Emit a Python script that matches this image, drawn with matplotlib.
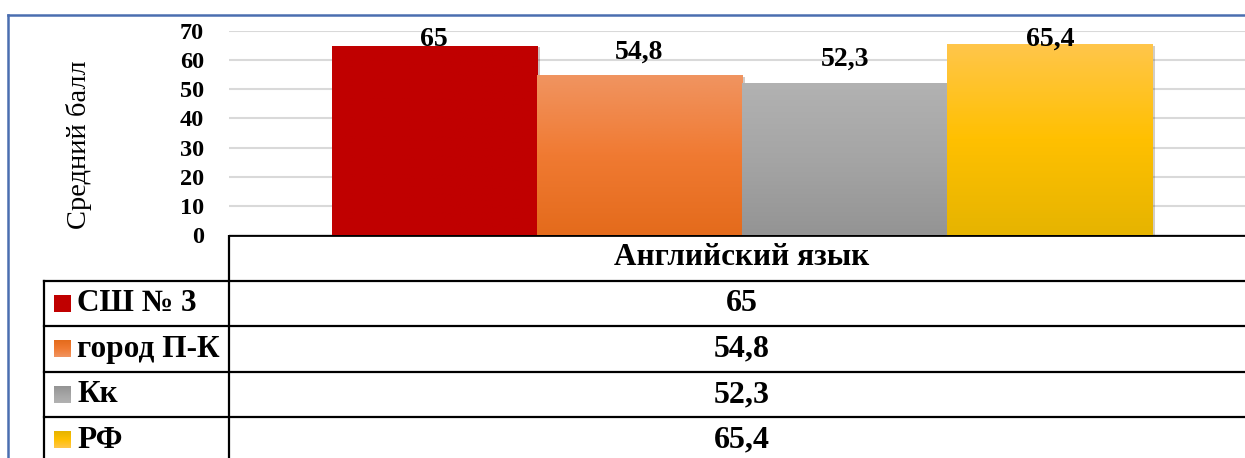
import numpy as np
import matplotlib.pyplot as plt
from matplotlib.colors import LinearSegmentedColormap
from matplotlib.lines import Line2D
import matplotlib.patheffects as pe

subject = "Английский язык"
series = ["СШ № 3", "город П-К", "Кк", "РФ"]
values = [65, 54.8, 52.3, 65.4]
labels = ["65", "54,8", "52,3", "65,4"]
yticks = [0, 10, 20, 30, 40, 50, 60, 70]
grads = [["#C00000", "#C00000"],
         ["#F09460", "#F07A32", "#E46B1C"],
         ["#B2B2B2", "#A5A5A5", "#949494"],
         ["#FFC64A", "#FFC000", "#E6B400"]]

W, H = 1245, 458
fig = plt.figure(figsize=(W / 100, H / 100), dpi=100)
serif = "Liberation Serif"

# bar chart area
ax = fig.add_axes([229 / W, 1 - 235 / H, 1026 / W, 204 / H])
n = len(values)
bw = 0.8 / n
xs = (np.arange(n) - (n - 1) / 2) * bw
bars = ax.bar(xs, values, width=bw, color=[g[0] for g in grads], zorder=2,
              linewidth=0)
for b, g in zip(bars, grads):
    b.set_path_effects([pe.SimplePatchShadow(offset=(2, -1), alpha=0.25), pe.Normal()])
    cm = LinearSegmentedColormap.from_list("g", g[::-1])
    grad = np.linspace(0, 1, 100).reshape(-1, 1)
    im = ax.imshow(grad, cmap=cm, origin="lower", aspect="auto", zorder=3,
                   extent=(b.get_x(), b.get_x() + b.get_width(), 0, b.get_height()))
    im.set_clip_path(b)
ax.set_xlim(-0.5, 0.5)
ax.set_ylim(0, 70)
ax.set_yticks(yticks)
ax.set_yticklabels([str(t) for t in yticks], fontfamily=serif,
                   fontweight="bold", fontsize=17.5)
ax.tick_params(axis="y", length=0, pad=18)
ax.set_xticks([])
ax.grid(axis="y", color="#D9D9D9", lw=1.5, zorder=0)
for s in ax.spines.values():
    s.set_visible(False)

ly = np.minimum(np.array(values) + 5.8, 65.0)
for x, y, t in zip(xs, ly, labels):
    ax.text(x, y, t, ha="center", va="baseline", fontfamily=serif,
            fontweight="bold", fontsize=20, zorder=5)

fig.text(79 / W, 1 - 145 / H, "Средний балл", rotation=90, ha="center",
         va="center", fontfamily=serif, fontsize=20.5)

# data table
pos = ax.get_position()
tb = fig.add_axes([0, -5 / H, 1, 228 / H])
tb.set_xlim(0, 1)
tb.set_ylim(n + 1, 0)
tb.axis("off")
xl, xsplit = 44 / W, pos.x0
xc = (pos.x0 + pos.x1) / 2
tb.plot([xsplit, 1], [0, 0], color="black", lw=2)
for r in range(1, n + 1):
    tb.plot([xl, 1], [r, r], color="black", lw=1.6)
tb.plot([xsplit, xsplit], [0, n + 1], color="black", lw=1.6)
tb.plot([xl, xl], [1, n + 1], color="black", lw=1.6)
tb.text(xc, 0.5, subject, ha="center", va="center", fontfamily=serif,
        fontweight="bold", fontsize=22.5)
for i, (name, t, g) in enumerate(zip(series, labels, grads)):
    r = i + 1.5
    cm = LinearSegmentedColormap.from_list("g", g[::-1])
    tb.imshow(np.linspace(0, 1, 50).reshape(-1, 1), cmap=cm, origin="upper",
              aspect="auto", extent=(54 / W, 71 / W, r + 0.18, r - 0.18))
    tb.text(77 / W, r, name, ha="left", va="center", fontfamily=serif,
            fontweight="bold", fontsize=22.5)
    tb.text(xc, r, t, ha="center", va="center", fontfamily=serif,
            fontweight="bold", fontsize=23)
tb.set_xlim(0, 1)
tb.set_ylim(n + 1, 0)

# outer frame (cropped)
fig.add_artist(Line2D([8 / W, 1], [1 - 15 / H, 1 - 15 / H], color="#4A6EB0", lw=1.8))
fig.add_artist(Line2D([8 / W, 8 / W], [0, 1 - 15 / H], color="#4A6EB0", lw=1.8))

fig.savefig("out.png", dpi=100)
